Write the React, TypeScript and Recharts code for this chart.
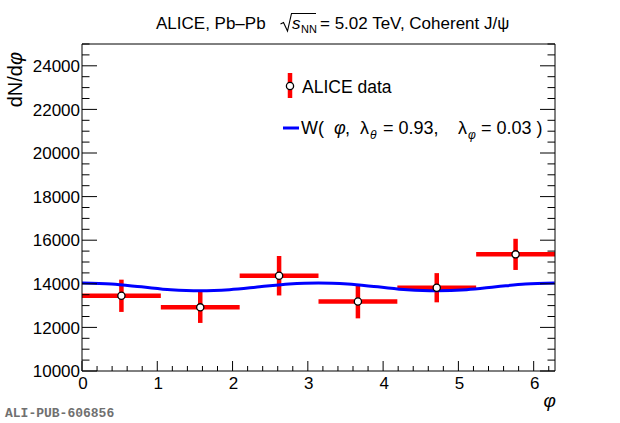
import { ComposedChart, XAxis, YAxis, Scatter, Line, ErrorBar } from "recharts";

// ALICE data, coherent J/psi, dN/dphi in 6 bins of phi
const binCenters = [0.5236, 1.5708, 2.618, 3.6652, 4.7124, 5.7596];
const binHalfWidths = [0.5236, 0.5236, 0.5236, 0.5236, 0.5236, 0.5236];
const counts = [13450, 12920, 14370, 13190, 13820, 15350];
const countErrors = [740, 715, 905, 775, 670, 715];

// W(phi) curve
const curvePhi = [0, 0.39, 0.79, 1.18, 1.57, 1.96, 2.36, 2.75, 3.14, 3.53, 3.93, 4.32, 4.71, 5.11, 5.5, 5.89, 6.28];
const curveW = [14040, 13990, 13860, 13730, 13680, 13730, 13860, 13990, 14040, 13990, 13860, 13730, 13680, 13730, 13860, 13990, 14040];

const xMajorTicks = [0, 1, 2, 3, 4, 5, 6];
const yMajorTicks = [10000, 12000, 14000, 16000, 18000, 20000, 22000, 24000];
const xMinorStep = 0.2;
const yMinorStep = 500;

const X_MAX = 6.2832;
const Y_MIN = 10000;
const Y_MAX = 25000;

const points = binCenters.map((phi, i) => ({
  phi,
  val: counts[i],
  ex: binHalfWidths[i],
  ey: countErrors[i],
}));
const curve = curvePhi.map((phi, i) => ({ phi, val: curveW[i] }));

const xTicks = Array.from({ length: Math.floor(X_MAX / xMinorStep) + 1 }, (_, i) => +(i * xMinorStep).toFixed(2));
const yTicks = Array.from({ length: (Y_MAX - Y_MIN) / yMinorStep + 1 }, (_, i) => Y_MIN + i * yMinorStep);

const font = "'Liberation Sans', Arial, Helvetica, sans-serif";

const isOn = (v: number, list: number[]) => list.some((m) => Math.abs(m - v) < 1e-6);

const LeftTick = ({ x, y, payload }: any) => {
  const major = isOn(payload.value, yMajorTicks);
  return (
    <g>
      <line x1={x} x2={x + (major ? 15 : 7.5)} y1={y} y2={y} stroke="#000" />
      {major && (
        <text x={x - 2} y={y} dy="0.36em" textAnchor="end" fontSize={17} fontFamily={font} fill="#000">
          {payload.value}
        </text>
      )}
    </g>
  );
};

const RightTick = ({ x, y, payload }: any) => {
  const major = isOn(payload.value, yMajorTicks);
  return <line x1={x} x2={x - (major ? 15 : 7.5)} y1={y} y2={y} stroke="#000" />;
};

const BottomTick = ({ x, y, payload }: any) => {
  const major = isOn(payload.value, xMajorTicks);
  return (
    <g>
      <line x1={x} x2={x} y1={y} y2={y - (major ? 10 : 5)} stroke="#000" />
      {major && (
        <text x={x + 1} y={y + 18} textAnchor="middle" fontSize={17} fontFamily={font} fill="#000">
          {Math.round(payload.value)}
        </text>
      )}
    </g>
  );
};

const TopTick = ({ x, y, payload }: any) => {
  const major = isOn(payload.value, xMajorTicks);
  return <line x1={x} x2={x} y1={y} y2={y + (major ? 10 : 5)} stroke="#000" />;
};

const Dot = ({ cx, cy }: any) => <circle cx={cx} cy={cy} r={3.6} fill="#fff" stroke="#000" strokeWidth={1.3} />;
const NoDot = () => <g />;

export default function App() {
  return (
    <div style={{ position: "relative", width: 620, height: 423, background: "#fff" }}>
      <style>{"body{margin:0}"}</style>
      <ComposedChart width={620} height={423} margin={{ top: 43, right: 64, bottom: 51, left: 81 }}>
        <XAxis
          xAxisId="b"
          dataKey="phi"
          type="number"
          domain={[0, X_MAX]}
          allowDataOverflow
          ticks={xTicks}
          interval={0}
          height={1}
          tickSize={0}
          tickMargin={0}
          tickLine={false}
          tick={BottomTick}
          axisLine={{ stroke: "#000" }}
        />
        <XAxis
          xAxisId="t"
          orientation="top"
          type="number"
          domain={[0, X_MAX]}
          allowDataOverflow
          ticks={xTicks}
          interval={0}
          height={1}
          tickSize={0}
          tickMargin={0}
          tickLine={false}
          tick={TopTick}
          axisLine={{ stroke: "#000" }}
        />
        <YAxis
          yAxisId="l"
          dataKey="val"
          type="number"
          domain={[Y_MIN, Y_MAX]}
          allowDataOverflow
          ticks={yTicks}
          interval={0}
          width={1}
          tickSize={0}
          tickMargin={0}
          tickLine={false}
          tick={LeftTick}
          axisLine={{ stroke: "#000" }}
        />
        <YAxis
          yAxisId="r"
          orientation="right"
          type="number"
          domain={[Y_MIN, Y_MAX]}
          allowDataOverflow
          ticks={yTicks}
          interval={0}
          width={1}
          tickSize={0}
          tickMargin={0}
          tickLine={false}
          tick={RightTick}
          axisLine={{ stroke: "#000" }}
        />
        <Scatter data={points} dataKey="val" xAxisId="b" yAxisId="l" shape={<NoDot />} isAnimationActive={false}>
          <ErrorBar dataKey="ex" direction="x" width={0} stroke="#ff0000" strokeWidth={4.5} isAnimationActive={false} />
          <ErrorBar dataKey="ey" direction="y" width={0} stroke="#ff0000" strokeWidth={4.5} isAnimationActive={false} />
        </Scatter>
        <Line
          data={curve}
          dataKey="val"
          xAxisId="b"
          yAxisId="l"
          type="monotone"
          dot={false}
          stroke="#0000ff"
          strokeWidth={3}
          isAnimationActive={false}
        />
        <Scatter data={points} dataKey="val" xAxisId="b" yAxisId="l" shape={<Dot />} isAnimationActive={false} />
      </ComposedChart>

      <svg
        width={620}
        height={423}
        style={{ position: "absolute", left: 0, top: 0, pointerEvents: "none" }}
        fontFamily={font}
        fill="#000"
      >
        {/* title */}
        <text x={156} y={29} fontSize={17}>ALICE, Pb–Pb</text>
        <path d="M280.5 24 L283.5 22.5 L287.5 31 L291.5 13.5 L316 13.5" fill="none" stroke="#000" strokeWidth={1.1} />
        <text x={292} y={29} fontSize={17} fontStyle="italic">s</text>
        <text x={301} y={33} fontSize={11}>NN</text>
        <text x={320} y={29} fontSize={17}>= 5.02 TeV, Coherent J/ψ</text>

        {/* axis titles */}
        <text x={22} y={52} fontSize={20} textAnchor="end" transform="rotate(-90 22 52)">
          dN/d<tspan fontStyle="italic">φ</tspan>
        </text>
        <text x={556} y={407} fontSize={19} textAnchor="end" fontStyle="italic">φ</text>

        {/* legend */}
        <line x1={290} x2={290} y1={73} y2={98} stroke="#ff0000" strokeWidth={4.5} />
        <circle cx={290} cy={86} r={3.6} fill="#fff" stroke="#000" strokeWidth={1.3} />
        <text x={302} y={93} fontSize={17.5}>ALICE data</text>

        <line x1={283} x2={299} y1={128} y2={128} stroke="#0000ff" strokeWidth={3} />
        <text x={301} y={134} fontSize={18}>W(</text>
        <text x={334} y={134} fontSize={18} fontStyle="italic">φ</text>
        <text x={345} y={134} fontSize={18}>,</text>
        <text x={360} y={134} fontSize={18}>λ</text>
        <text x={370} y={139} fontSize={12} fontStyle="italic">θ</text>
        <text x={383} y={134} fontSize={18}>= 0.93,</text>
        <text x={458} y={134} fontSize={18}>λ</text>
        <text x={468} y={139} fontSize={12} fontStyle="italic">φ</text>
        <text x={481} y={134} fontSize={18}>= 0.03 )</text>

        <text x={5} y={417} fontSize={13} fontWeight="bold" fontFamily="'Liberation Mono', 'DejaVu Sans Mono', monospace" fill="#707070">
          ALI-PUB-606856
        </text>
      </svg>
    </div>
  );
}
